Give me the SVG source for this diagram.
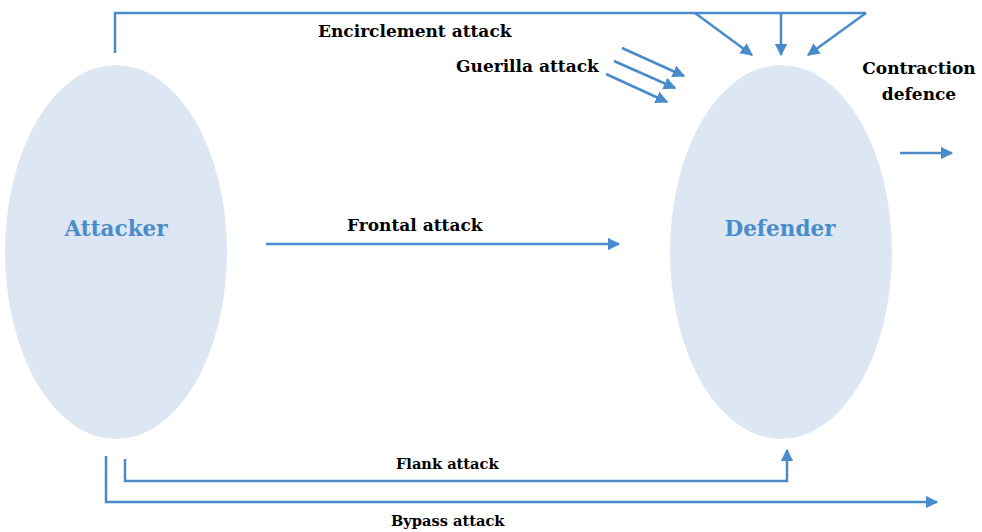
<svg xmlns="http://www.w3.org/2000/svg" width="982" height="532" viewBox="0 0 982 532">
<defs>
<marker id="ah" viewBox="0 0 10 10" refX="9" refY="5" markerWidth="5" markerHeight="5" orient="auto" markerUnits="strokeWidth">
<path d="M0,0 L10,5 L0,10 z" fill="#4a8bcb"/>
</marker>
<style>
.n{fill:#dce7f3;}
.nt{font-family:"DejaVu Serif","Liberation Serif",serif;font-weight:bold;font-size:21.5px;fill:#4a8bcb;text-anchor:middle;}
.c{fill:none;stroke:#4a8bcb;stroke-width:2.5;}
.ca{fill:none;stroke:#4a8bcb;stroke-width:2.5;marker-end:url(#ah);}
.l{font-family:"DejaVu Serif","Liberation Serif",serif;font-weight:bold;font-size:17px;fill:#000;}
.s{font-size:14.6px;}
</style>
</defs>
<rect width="982" height="532" fill="#fff"/>
<g id="attacker">
<ellipse class="n" cx="116" cy="252" rx="111" ry="187"/>
<text class="nt" x="116" y="236">Attacker</text>
</g>
<g id="defender">
<ellipse class="n" cx="781" cy="252" rx="111" ry="187"/>
<text class="nt" x="780" y="236">Defender</text>
</g>
<g id="connectors">
<path class="c" d="M115,53 V13 H866"/>
<path class="ca" d="M695,13 L752,55"/>
<path class="ca" d="M781,13 V55"/>
<path class="ca" d="M866,13 L808,55"/>
<path class="ca" d="M622,48 L684,76"/>
<path class="ca" d="M614,61 L675,88"/>
<path class="ca" d="M606,74 L667,102"/>
<path class="ca" d="M900,153 H952"/>
<path class="ca" d="M266,244 H619"/>
<path class="ca" d="M125,459 V481 H787 V450"/>
<path class="ca" d="M106,456 V502 H937"/>
</g>
<g id="labels">
<text class="l" x="318" y="37">Encirclement attack</text>
<text class="l" x="456" y="72">Guerilla attack</text>
<text class="l" x="919" y="74" text-anchor="middle">Contraction</text>
<text class="l" x="919" y="100" text-anchor="middle">defence</text>
<text class="l" x="347" y="231">Frontal attack</text>
<text class="l s" x="396" y="469">Flank attack</text>
<text class="l s" x="391" y="526">Bypass attack</text>
</g>
</svg>
